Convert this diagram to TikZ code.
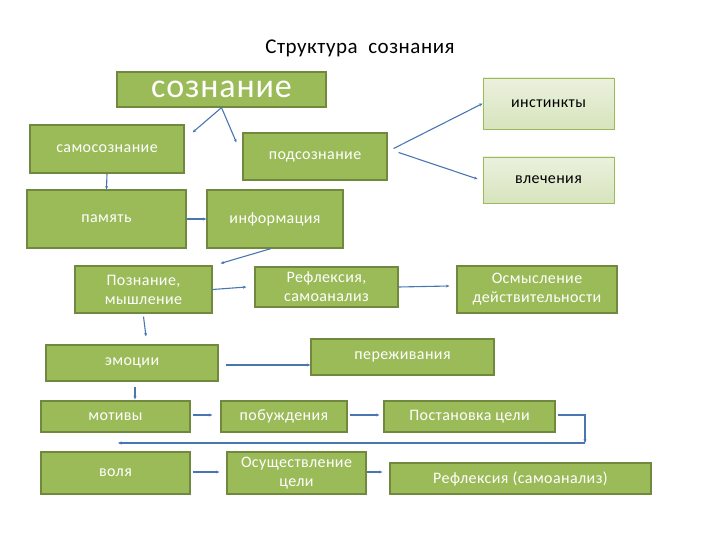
\documentclass[tikz,border=0pt]{standalone}
\usepackage{fontspec}
\setmainfont{Carlito}[LetterSpace=2.5]
\usetikzlibrary{arrows.meta, positioning, calc}
\definecolor{mygreen}{RGB}{155,187,89}
\definecolor{mydarkgreen}{RGB}{113,137,63}
\definecolor{mylight}{RGB}{235,241,222}
\definecolor{mylighter}{RGB}{215,228,189}
\definecolor{myblue}{RGB}{74,118,176}

\begin{document}
\begin{tikzpicture}[x=1pt, y=-1pt,
    box/.style={draw=mydarkgreen, line width=1.2pt, fill=mygreen, text=white, align=center,
                font=\fontsize{16}{19}\selectfont, inner sep=0pt},
    lightbox/.style={draw=mygreen, line width=0.8pt, top color=mylight, bottom color=mylighter,
                text=black, align=center, font=\fontsize{16}{19}\selectfont, inner sep=0pt},
    arr/.style={->, >={Stealth[length=3.5pt,width=3pt]}, myblue, line width=1.1pt}]
    \useasboundingbox (0,0) rectangle (720,540);
    \node (title) at (360,48) {\fontsize{21}{24}\selectfont Структура\ \ сознания};
    \node[box, minimum width=209pt, minimum height=35pt, font=\fontsize{34}{36}\selectfont] (soz) at (221.5,89.5) {сознание};
    \node[box, minimum width=154pt, minimum height=48pt] (samo) at (107,149) {самосознание};
    \node[box, minimum width=144pt, minimum height=47pt] (podsoz) at (315,156.5) {подсознание};
    \node[lightbox, minimum width=131pt, minimum height=51pt] (instinkty) at (548.5,103.5) {инстинкты};
    \node[lightbox, minimum width=131pt, minimum height=46pt] (vlechenia) at (548.5,180) {влечения};
    \node[box, minimum width=159pt, minimum height=58pt] (pamyat) at (106.5,219) {память};
    \node[box, minimum width=136pt, minimum height=58pt] (info) at (275,219) {информация};
    \node[box, minimum width=137pt, minimum height=47pt] (poznanie) at (143.5,289.5) {Познание,\\мышление};
    \node[box, minimum width=143pt, minimum height=40pt] (refl) at (326.5,287) {Рефлексия,\\самоанализ};
    \node[box, minimum width=160pt, minimum height=47pt] (osmysl) at (537,289.5) {Осмысление\\действительности};
    \node[box, minimum width=172pt, minimum height=36pt] (emocii) at (132,363) {эмоции};
    \node[box, minimum width=183pt, minimum height=36pt] (perezh) at (402.5,357) {переживания};
    \node[box, minimum width=149pt, minimum height=31pt] (motivy) at (115.5,416.5) {мотивы};
    \node[box, minimum width=126pt, minimum height=31pt] (pobuzh) at (284,416.5) {побуждения};
    \node[box, minimum width=171pt, minimum height=31pt] (postan) at (469.5,416.5) {Постановка цели};
    \node[box, minimum width=149pt, minimum height=42pt] (volya) at (115.5,473) {воля};
    \node[box, minimum width=139pt, minimum height=42pt] (osush) at (296.5,473) {Осуществление\\цели};
    \node[box, minimum width=261pt, minimum height=31pt] (reflsam) at (520.5,478.5) {Рефлексия (самоанализ)};
    \coordinate (turn) at (585,443);
    \coordinate (back) at (118,443);
    \draw[arr] (soz.south) -- ($(samo.north east)+(8,8)$);
    \draw[arr] (soz.south) -- ($(podsoz.north west)+(-6,10)$);
    \draw[arr] ($(podsoz.east)+(6,-8)$) -- (instinkty.west);
    \draw[arr] ($(podsoz.east)+(11,-4)$) -- ($(vlechenia.west)+(-5,-1)$);
    \draw[arr] (samo.south) -- (pamyat.north);
    \draw[arr] (pamyat.east) -- (info.west);
    \draw[arr] ($(info.south)+(-4,0)$) -- ($(poznanie.north east)+(8,-2)$);
    \draw[arr] (poznanie.east) -- ($(refl.west)+(-8,0)$);
    \draw[arr] (refl.east) -- ($(osmysl.west)+(-7,-3.5)$);
    \draw[arr] ($(poznanie.south)+(0,3)$) -- ($(emocii.north)+(14,-8)$);
    \draw[arr] ($(emocii.east)+(7,2)$) -- ($(perezh.west)+(0,8)$);
    \draw[arr] ($(emocii.south)+(3,5)$) -- ($(motivy.north)+(19.5,-1)$);
    \draw[arr] ($(motivy.east)+(2,-1.5)$) -- ($(pobuzh.west)+(-8,-1.5)$);
    \draw[arr] ($(pobuzh.east)+(2,-1.5)$) -- ($(postan.west)+(-4,-1.5)$);
    \draw[arr] ($(postan.east)+(2,-1.5)$) -| (turn);
    \draw[arr] (turn) -- (back);
    \draw[arr] ($(volya.east)+(2,-1)$) -- ($(osush.west)+(-7,-1)$);
    \draw[arr] ($(osush.east)+(0,-1)$) -- ($(reflsam.west)+(-7,-6.5)$);
\end{tikzpicture}
\end{document}
